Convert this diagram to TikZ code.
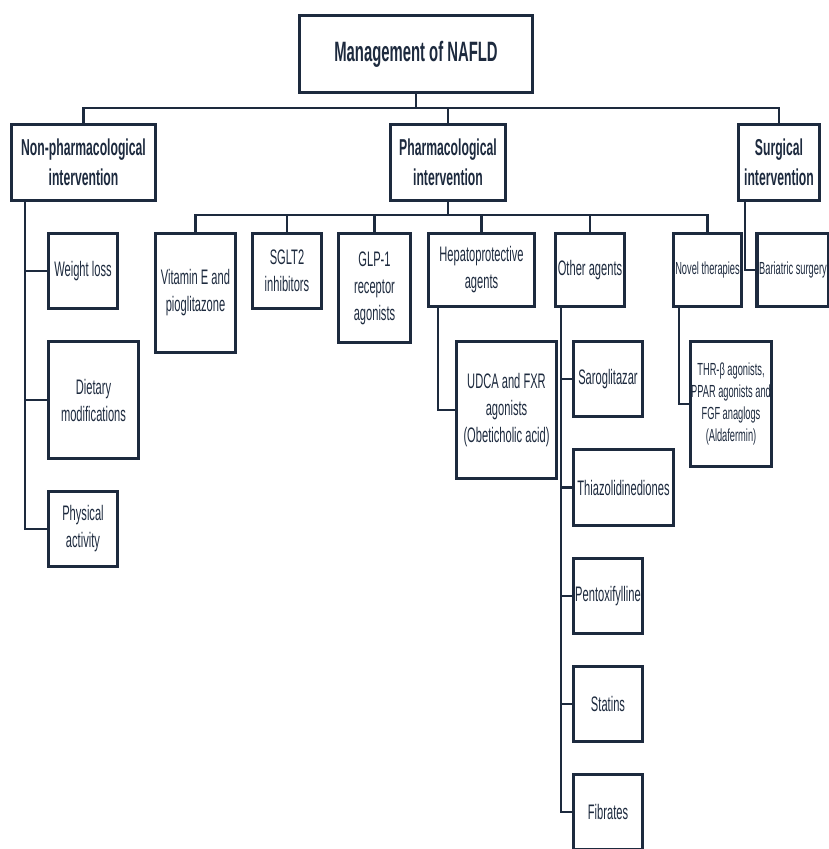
\documentclass[tikz,border=0pt]{standalone}
\usepackage{fontspec}
\setmainfont[FakeStretch=0.53]{Liberation Sans}
\usepackage{tikz}
\definecolor{navy}{HTML}{1D2A3E}

\begin{document}
\begin{tikzpicture}[x=1pt,y=-1pt,
    box/.style={draw=navy,line width=3.2pt,text=navy,inner sep=0pt,align=center,
      font=\fontsize{21}{27}\selectfont},
    head/.style={box,font=\bfseries\fontsize{23}{30}\selectfont},
    small/.style={font=\fontsize{17.5}{22}\selectfont},
    link/.style={draw=navy,line width=2.4pt}]
    \useasboundingbox (0,0) rectangle (828,849);

    \node[head,minimum width=233pt,minimum height=77pt,font=\bfseries\fontsize{28}{32}\selectfont] (root) at (416,54) {Management of NAFLD};
    \node[head,minimum width=144pt,minimum height=76pt] (nonph) at (83.5,162.5) {Non-pharmacological\\intervention};
    \node[head,minimum width=115pt,minimum height=76pt] (pharm) at (448,162.5) {Pharmacological\\intervention};
    \node[head,minimum width=81pt,minimum height=76pt] (surg) at (779,162.5) {Surgical\\intervention};

    \node[box,minimum width=69pt,minimum height=75pt] (wl) at (83,271) {Weight loss};
    \node[box,minimum width=90pt,minimum height=117pt] (diet) at (93.5,400) {Dietary\\modifications};
    \node[box,minimum width=69pt,minimum height=75pt] (phys) at (83,529) {Physical\\activity};

    \node[box,minimum width=80pt,minimum height=119pt] (vite) at (195.5,293) {Vitamin E and\\pioglitazone};
    \node[box,minimum width=69pt,minimum height=75pt] (sglt) at (287,271) {SGLT2\\inhibitors};
    \node[box,minimum width=72pt,minimum height=109pt] (glp) at (374.5,288) {GLP-1\\receptor\\agonists};
    \node[box,minimum width=106pt,minimum height=73pt] (hepa) at (481.5,270) {Hepatoprotective\\agents};
    \node[box,minimum width=69pt,minimum height=73pt] (other) at (590,270) {Other agents};
    \node[box,small,minimum width=68pt,minimum height=73pt] (novel) at (707.5,270) {Novel therapies};
    \node[box,small,minimum width=72pt,minimum height=73pt] (bari) at (793,270) {Bariatric surgery};

    \node[box,minimum width=100pt,minimum height=137pt] (udca) at (506.5,410) {UDCA and FXR\\agonists\\(Obeticholic acid)};
    \node[box,small,minimum width=81pt,minimum height=125pt] (thr) at (731,404) {THR-β agonists,\\PPAR agonists and\\FGF anaglogs\\(Aldafermin)};

    \node[box,minimum width=69pt,minimum height=75pt] (sarog) at (608,379) {Saroglitazar};
    \node[box,minimum width=100pt,minimum height=76pt] (thiaz) at (623.5,487.5) {Thiazolidinediones};
    \node[box,minimum width=69pt,minimum height=75pt] (pent) at (608,596) {Pentoxifylline};
    \node[box,minimum width=69pt,minimum height=75pt] (stat) at (608,704) {Statins};
    \node[box,minimum width=69pt,minimum height=75pt] (fibr) at (608,812) {Fibrates};

    \draw[link] (root.south) -- ++(0,14) coordinate (b0);
    \draw[link] (nonph.north) |- (b0) -| (surg.north);
    \draw[link] (pharm.north) -- (pharm.north |- b0);

    \draw[link] (pharm.south) -- ++(0,13) coordinate (b1);
    \draw[link] (vite.north) |- (b1) -| (novel.north);
    \foreach \n in {sglt,glp,hepa,other}
      \draw[link] (\n.north) -- (\n.north |- b1);

    \draw[link] ([xshift=15pt]nonph.south west) coordinate (t0) |- (phys.west);
    \foreach \n in {wl,diet}
      \draw[link] (\n.west) -- (\n.west -| t0);

    \draw[link] ([xshift=8pt]surg.south west) |- (bari.west);
    \draw[link] ([xshift=11pt]hepa.south west) |- (udca.west);
    \draw[link] ([xshift=7pt]novel.south west) |- (thr.west);

    \draw[link] ([xshift=7pt]other.south west) coordinate (t1) |- (fibr.west);
    \foreach \n in {sarog,thiaz,pent,stat}
      \draw[link] (\n.west) -- (\n.west -| t1);
  \end{tikzpicture}
\end{document}
